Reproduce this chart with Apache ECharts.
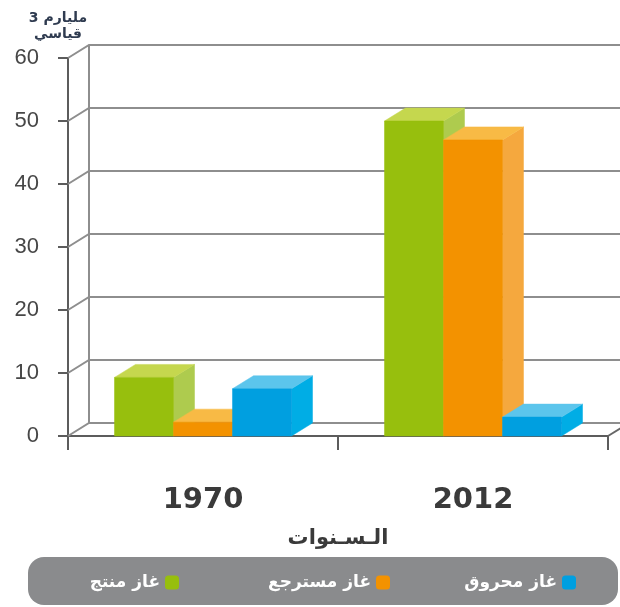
<!DOCTYPE html>
<html><head><meta charset="utf-8">
<script src="https://cdn.jsdelivr.net/npm/echarts@6/dist/echarts.min.js"></script>
<style>html,body{margin:0;padding:0;background:#fff;}#c{width:620px;height:607px;}</style>
</head><body><div id="c"></div>
<script>
const categories = ['1970', '2012'];
const producedGas = [9.3, 50];
const recoveredGas = [2.2, 47];
const burnedGas = [7.5, 3];
const yTicks = [0, 10, 20, 30, 40, 50, 60];
const seriesNames = ['غاز منتج', 'غاز مسترجع', 'غاز محروق'];
const yAxisTitle = 'مليارم 3\nقياسي';
const xAxisTitle = 'الـسـنوات';

const DX = 21, DY = -13;
const palette = [
  {front: '#97bf0d', top: '#c5d74e', side: '#aecb4e'},
  {front: '#f39200', top: '#f8ba45', side: '#f5a83e'},
  {front: '#009fe0', top: '#5cc5ec', side: '#00ade5'}
];

function frameRender(params, api) {
  const v = api.value(1);
  const p = api.coord([0, v]);
  const cs = params.coordSys;
  const x0 = cs.x, xR = cs.x + cs.width, y = p[1];
  const st = {stroke: '#8e8e8e', lineWidth: 2, fill: null};
  const children = [
    {type: 'polyline', shape: {points: [[x0, y], [x0 + DX, y + DY], [xR + DX + 20, y + DY]]}, style: st}
  ];
  if (v === 0) {
    const yTop = api.coord([0, yTicks[yTicks.length - 1]])[1];
    children.push({type: 'line', shape: {x1: x0 + DX, y1: y + DY, x2: x0 + DX, y2: yTop + DY}, style: st});
    children.push({type: 'line', shape: {x1: xR, y1: y, x2: xR + DX, y2: y + DY}, style: {stroke: '#666', lineWidth: 2}});
  }
  return {type: 'group', children: children};
}

function barRender(slot) {
  const c = palette[slot];
  return function (params, api) {
    const ci = api.value(0), v = api.value(1);
    const t = api.coord([ci, v]);
    const b = api.coord([ci, 0]);
    const bandW = api.size([1, 0])[0];
    const bw = bandW * 0.2185;
    const x0 = t[0] + (slot - 1.5) * bw, x1 = x0 + bw;
    const yt = t[1], yb = b[1];
    return {type: 'group', children: [
      {type: 'polygon', shape: {points: [[x1, yt], [x1 + DX, yt + DY], [x1 + DX, yb + DY], [x1, yb]]}, style: {fill: c.side, stroke: c.side, lineWidth: 0.5}},
      {type: 'polygon', shape: {points: [[x0, yt], [x0 + DX, yt + DY], [x1 + DX, yt + DY], [x1, yt]]}, style: {fill: c.top, stroke: c.top, lineWidth: 0.5}},
      {type: 'rect', shape: {x: x0, y: yt, width: bw, height: yb - yt}, style: {fill: c.front, stroke: c.front, lineWidth: 0.5}}
    ]};
  };
}

const valueLists = [producedGas, recoveredGas, burnedGas];
const barSeries = valueLists.map((vals, i) => ({
  type: 'custom', name: seriesNames[i], z: 3 + i,
  itemStyle: {color: palette[i].front},
  renderItem: barRender(i),
  data: vals.map((v, k) => [k, v])
}));

const legendRight = [441, 230, 44];
const legends = seriesNames.map((n, i) => ({
  data: [n], right: legendRight[i], top: 574, padding: 0, align: 'right',
  selectedMode: false, icon: 'roundRect', itemWidth: 14, itemHeight: 14, itemGap: 0,
  textStyle: {color: '#ffffff', fontSize: 17, fontWeight: 'bold', fontFamily: 'DejaVu Sans'}
}));

const chart = echarts.init(document.getElementById('c'), null, {renderer: 'canvas'});
chart.setOption({
  animation: false,
  backgroundColor: '#ffffff',
  grid: {left: 68, right: 12, top: 58, bottom: 171, containLabel: false},
  graphic: [{type: 'rect', left: 28, top: 557, z: -1, shape: {width: 590, height: 48, r: 16}, style: {fill: '#8a8b8d'}}],
  legend: legends,
  xAxis: {
    type: 'category', data: categories, boundaryGap: true,
    axisLine: {show: true, lineStyle: {color: '#5c5c5c', width: 2}},
    axisTick: {show: true, length: 14, lineStyle: {color: '#5c5c5c', width: 2}},
    axisLabel: {margin: 50, fontSize: 29, fontWeight: 'bold', color: '#3a3a3a', fontFamily: 'DejaVu Sans'},
    name: xAxisTitle, nameLocation: 'middle', nameGap: 92,
    nameTextStyle: {fontSize: 21, fontWeight: 'bold', color: '#3a3a3a', fontFamily: 'DejaVu Sans'}
  },
  yAxis: {
    type: 'value', min: 0, max: 60, interval: 10,
    axisLine: {show: true, lineStyle: {color: '#5c5c5c', width: 2}},
    axisTick: {show: true, length: 10, lineStyle: {color: '#5c5c5c', width: 2}},
    splitLine: {show: false},
    axisLabel: {margin: 29, fontSize: 22, color: '#474747', fontFamily: 'Liberation Sans'},
    name: yAxisTitle, nameLocation: 'end', nameGap: 16,
    nameTextStyle: {fontSize: 14, fontWeight: 'bold', color: '#2f3b50', fontFamily: 'DejaVu Sans', align: 'center', padding: [0, 20, 0, 0], lineHeight: 16}
  },
  series: [{
    type: 'custom', name: 'frame', z: 1, silent: true,
    renderItem: frameRender,
    data: yTicks.map(v => [0, v])
  }].concat(barSeries)
});
</script></body></html>
